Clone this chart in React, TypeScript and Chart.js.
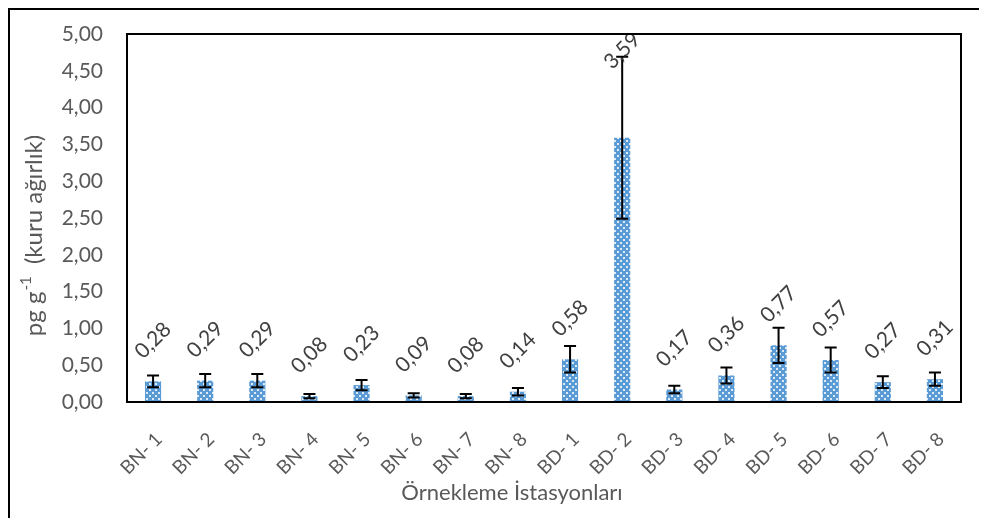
import { useEffect, useRef } from "react";
import { Chart, registerables } from "chart.js";

Chart.register(...registerables);

const categories = [
  "BN- 1", "BN- 2", "BN- 3", "BN- 4", "BN- 5", "BN- 6", "BN- 7", "BN- 8",
  "BD- 1", "BD- 2", "BD- 3", "BD- 4", "BD- 5", "BD- 6", "BD- 7", "BD- 8",
];
const meanValues = [
  0.28, 0.29, 0.29, 0.08, 0.23, 0.09, 0.08, 0.14,
  0.58, 3.59, 0.17, 0.36, 0.77, 0.57, 0.27, 0.31,
];
const errorValues = [
  0.08, 0.09, 0.09, 0.03, 0.07, 0.03, 0.03, 0.05,
  0.18, 1.1, 0.05, 0.11, 0.24, 0.17, 0.08, 0.09,
];
const yMin = 0;
const yMax = 5;
const yStep = 0.5;
const yTitleMain = "pg g";
const yTitleSup = "-1";
const yTitleRest = "  (kuru ağırlık)";
const xTitle = "Örnekleme İstasyonları";

const FONT = "Lato";
const fmt = (v: number) => v.toFixed(2).replace(".", ",");

function makePattern(): CanvasPattern | string {
  const c = document.createElement("canvas");
  c.width = 6;
  c.height = 6;
  const g = c.getContext("2d");
  if (!g) return "#5B9BD5";
  g.fillStyle = "#5B9BD5";
  g.fillRect(0, 0, 6, 6);
  g.fillStyle = "#DDEBF7";
  g.fillRect(0, 0, 2, 2);
  g.fillRect(3, 3, 2, 2);
  const p = g.createPattern(c, "repeat");
  return p || "#5B9BD5";
}

const decor = {
  id: "decor",
  afterDatasetsDraw(chart: any) {
    const ctx: CanvasRenderingContext2D = chart.ctx;
    const meta = chart.getDatasetMeta(0);
    const y = chart.scales.y;
    ctx.save();
    ctx.strokeStyle = "#000";
    ctx.lineWidth = 2;
    meta.data.forEach((bar: any, i: number) => {
      const v = meanValues[i];
      const e = errorValues[i];
      const yt = y.getPixelForValue(v + e);
      const yb = y.getPixelForValue(v - e);
      ctx.beginPath();
      ctx.moveTo(bar.x, yt);
      ctx.lineTo(bar.x, yb);
      ctx.moveTo(bar.x - 6, yt);
      ctx.lineTo(bar.x + 6, yt);
      ctx.moveTo(bar.x - 6, yb);
      ctx.lineTo(bar.x + 6, yb);
      ctx.stroke();
    });
    meta.data.forEach((bar: any, i: number) => {
      const v = meanValues[i];
      const top = y.getPixelForValue(v);
      const errTop = y.getPixelForValue(v + errorValues[i]);
      const cy = Math.min(top - 41, errTop - 6);
      ctx.save();
      ctx.translate(bar.x, cy);
      ctx.rotate(-Math.PI / 4);
      ctx.font = `21px ${FONT}`;
      ctx.fillStyle = "#404040";
      ctx.textAlign = "center";
      ctx.textBaseline = "middle";
      ctx.fillText(fmt(v), 0, 0);
      ctx.restore();
    });
    ctx.restore();
  },
  afterDraw(chart: any) {
    const ctx: CanvasRenderingContext2D = chart.ctx;
    const a = chart.chartArea;
    ctx.save();
    ctx.strokeStyle = "#000";
    ctx.lineWidth = 2;
    ctx.strokeRect(a.left, a.top, a.right - a.left, a.bottom - a.top);
    ctx.beginPath();
    ctx.moveTo(1, chart.height);
    ctx.lineTo(1, 1);
    ctx.lineTo(chart.width, 1);
    ctx.stroke();
    ctx.fillStyle = "#595959";
    ctx.textBaseline = "middle";
    ctx.textAlign = "left";
    ctx.save();
    ctx.translate(26.5, 228);
    ctx.rotate(-Math.PI / 2);
    ctx.font = `24px ${FONT}`;
    const w1 = ctx.measureText(yTitleMain).width;
    const w3 = ctx.measureText(yTitleRest).width;
    ctx.font = `15px ${FONT}`;
    const w2 = ctx.measureText(yTitleSup).width;
    let x = -(w1 + w2 + w3) / 2;
    ctx.font = `24px ${FONT}`;
    ctx.fillText(yTitleMain, x, 0);
    x += w1 + 1;
    ctx.font = `15px ${FONT}`;
    ctx.fillText(yTitleSup, x, -8);
    x += w2;
    ctx.font = `24px ${FONT}`;
    ctx.fillText(yTitleRest, x, 0);
    ctx.restore();
    ctx.font = `22px ${FONT}`;
    ctx.textAlign = "center";
    ctx.textBaseline = "alphabetic";
    ctx.fillText(xTitle, 504, 492);
    ctx.restore();
  },
};

export default function App() {
  const ref = useRef<HTMLCanvasElement | null>(null);
  useEffect(() => {
    if (!ref.current) return;
    const chart = new Chart(ref.current, {
      type: "bar",
      data: {
        labels: categories,
        datasets: [
          {
            data: meanValues,
            backgroundColor: makePattern() as any,
            borderWidth: 0,
            categoryPercentage: 1,
            barPercentage: 0.31,
          },
        ],
      },
      options: {
        responsive: false,
        animation: false,
        layout: { padding: { top: 26, right: 26, left: 0, bottom: 0 } },
        plugins: { legend: { display: false }, tooltip: { enabled: false } },
        scales: {
          x: {
            grid: { display: false, drawTicks: false },
            border: { display: false },
            ticks: {
              font: { family: FONT, size: 19 },
              color: "#595959",
              minRotation: 45,
              maxRotation: 45,
              autoSkip: false,
              padding: 26,
              labelOffset: 6,
            },
            afterFit: (s: any) => {
              s.height = 116;
              s.paddingLeft = 0;
              s.paddingRight = 0;
            },
          },
          y: {
            min: yMin,
            max: yMax,
            grid: { display: false, drawTicks: false },
            border: { display: false },
            ticks: {
              stepSize: yStep,
              font: { family: FONT, size: 21 },
              color: "#595959",
              padding: 24,
              callback: (v: any) => fmt(Number(v)),
            },
            afterFit: (s: any) => {
              s.width = 119;
              s.paddingTop = 0;
              s.paddingBottom = 0;
            },
          },
        },
      },
      plugins: [decor],
    });
    return () => chart.destroy();
  }, []);
  return <canvas ref={ref} width={979} height={510} style={{ display: "block" }} />;
}
